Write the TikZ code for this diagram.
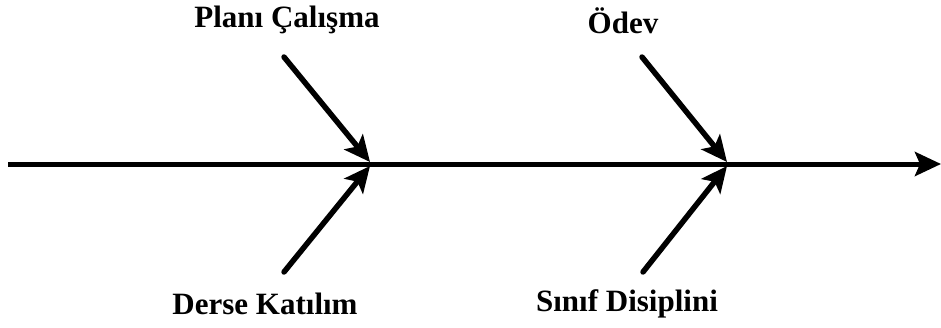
\documentclass[tikz,border=0pt]{standalone}
\usepackage{fontspec}
\setmainfont{Liberation Serif}
\usetikzlibrary{arrows.meta,positioning}

\begin{document}
\begin{tikzpicture}[
  x=1pt, y=1pt,
  cause/.style={font=\fontsize{31}{36}\selectfont\bfseries, inner sep=0pt},
  bone/.style={-{Stealth[length=26pt, width=24pt, inset=6pt]}, line width=5.5pt, line cap=round},
  spine/.style={-{Stealth[length=26pt, width=24pt, inset=5pt]}, line width=5pt},
]
  \useasboundingbox (0,0) rectangle (941,327);

  % Spine
  \coordinate (tail) at (8,163);
  \coordinate (head) at (941,163);
  \coordinate (j1) at (370,163);
  \coordinate (j2) at (727,163);
  \draw[spine] (tail) -- (head);

  % Causes
  \node[cause] (plan) at (287,307) {Planı Çalışma};
  \node[cause] (odev) at (623,306) {Ödev};
  \node[cause] (derse) at (265,23) {Derse Katılım};
  \node[cause] (sinif) at (627,23) {Sınıf Disiplini};

  \coordinate (p1) at (284,270);
  \coordinate (p2) at (642,270);
  \coordinate (d1) at (284,55);
  \coordinate (d2) at (643,55);

  % Bones
  \draw[bone] (p1) -- ([yshift=2pt]j1);
  \draw[bone] (d1) -- ([yshift=-2pt]j1);
  \draw[bone] (p2) -- ([yshift=2pt]j2);
  \draw[bone] (d2) -- ([yshift=-2pt]j2);
\end{tikzpicture}
\end{document}
